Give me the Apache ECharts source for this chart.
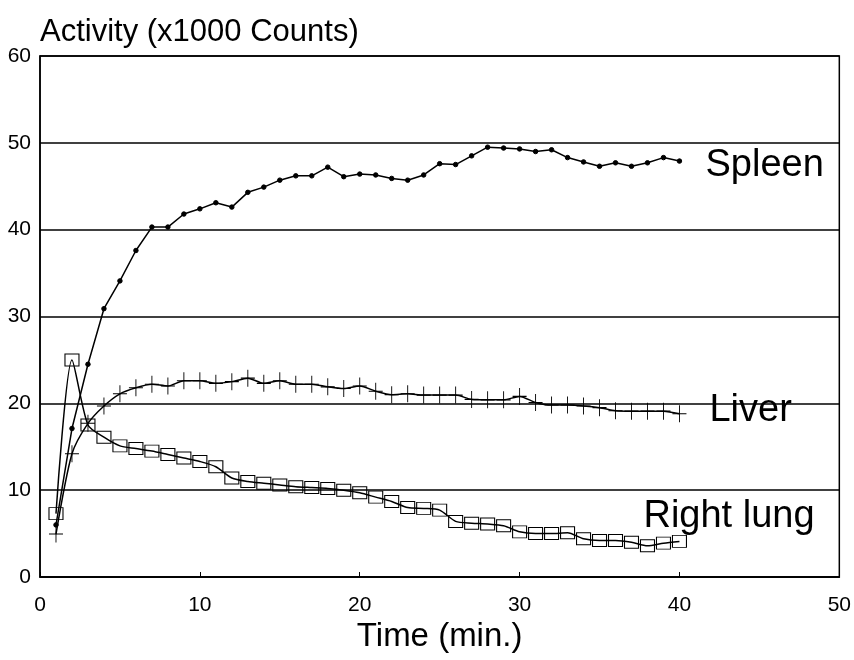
<!DOCTYPE html>
<html><head><meta charset="utf-8">
<script src="https://cdn.jsdelivr.net/npm/echarts/dist/echarts.min.js"></script>
<style>html,body{margin:0;padding:0;background:#fff}#c{width:854px;height:660px}</style>
</head><body><div id="c"></div>
<script>
// Time points (min.)
const times = [1,2,3,4,5,6,7,8,9,10,11,12,13,14,15,16,17,18,19,20,21,22,23,24,25,26,27,28,29,30,31,32,33,34,35,36,37,38,39,40];
// Activity (x1000 counts)
const spleen = [6.0,17.1,24.5,30.9,34.1,37.6,40.3,40.3,41.8,42.4,43.1,42.6,44.3,44.9,45.7,46.2,46.2,47.2,46.1,46.4,46.3,45.9,45.7,46.3,47.6,47.5,48.5,49.5,49.4,49.3,49.0,49.2,48.3,47.8,47.3,47.7,47.3,47.7,48.3,47.9];
const liver = [4.95,14.2,17.7,19.7,21.1,21.8,22.2,22.0,22.6,22.6,22.3,22.5,22.9,22.3,22.6,22.2,22.2,21.9,21.7,22.0,21.4,21.0,21.1,20.95,20.95,20.95,20.45,20.4,20.4,20.8,20.1,19.8,19.8,19.7,19.5,19.15,19.1,19.1,19.1,18.8];
const rightLung = [7.3,25.0,17.5,16.1,15.1,14.8,14.5,14.1,13.7,13.3,12.7,11.4,11.0,10.8,10.6,10.4,10.3,10.2,10.0,9.7,9.2,8.7,8.0,7.9,7.7,6.4,6.2,6.1,5.9,5.2,5.0,5.0,5.1,4.4,4.2,4.2,4.0,3.6,3.9,4.1];
const seriesNames = ['Spleen', 'Liver', 'Right lung'];
const xTitle = 'Time (min.)';
const yTitle = 'Activity (x1000 Counts)';
const xRange = [0, 50], xStep = 10;
const yRange = [0, 60], yStep = 10;

const pair = arr => times.map((t, i) => [t, arr[i]]);
const FONT = 'Liberation Sans, Arial, Helvetica, sans-serif';
const chart = echarts.init(document.getElementById('c'), null, {renderer: 'canvas'});
const lineBase = {
  type: 'line',
  lineStyle: {color: '#000', width: 1.5},
  itemStyle: {color: '#000', borderColor: '#000'},
  emphasis: {disabled: true},
  endLabel: {show: true, color: '#000', fontFamily: FONT, fontSize: 38}
};
chart.setOption({
  animation: false,
  backgroundColor: '#fff',
  grid: {left: 40, right: 13, top: 56, bottom: 83, show: true, borderColor: '#000', borderWidth: 1.5},
  xAxis: {
    type: 'value', min: xRange[0], max: xRange[1], interval: xStep,
    name: xTitle, nameLocation: 'middle', nameGap: 40,
    nameTextStyle: {color: '#000', fontFamily: FONT, fontSize: 33},
    axisLine: {lineStyle: {color: '#000', width: 1.5}},
    axisTick: {inside: true, length: 5, lineStyle: {color: '#000'}},
    axisLabel: {color: '#000', fontFamily: FONT, fontSize: 21, margin: 18},
    splitLine: {show: false}
  },
  yAxis: {
    type: 'value', min: yRange[0], max: yRange[1], interval: yStep,
    name: yTitle, nameLocation: 'end', nameGap: 8,
    nameTextStyle: {color: '#000', fontFamily: FONT, fontSize: 31, align: 'left', verticalAlign: 'bottom'},
    axisLine: {show: true, lineStyle: {color: '#000', width: 1.5}},
    axisTick: {show: false},
    axisLabel: {color: '#000', fontFamily: FONT, fontSize: 21, margin: 9},
    splitLine: {show: true, lineStyle: {color: '#000', width: 1.5}}
  },
  series: [
    Object.assign({}, lineBase, {
      name: seriesNames[0], data: pair(spleen), symbol: 'circle', symbolSize: 4.5,
      endLabel: Object.assign({}, lineBase.endLabel, {formatter: seriesNames[0], distance: 26, offset: [0, 4]})
    }),
    Object.assign({}, lineBase, {
      name: seriesNames[1], data: pair(liver), smooth: 0.25,
      symbol: 'path://M8,0L8,18M1,9L15,9', symbolSize: [14, 17],
      itemStyle: {color: 'none', borderColor: '#000', borderWidth: 1},
      endLabel: Object.assign({}, lineBase.endLabel, {formatter: seriesNames[1], distance: 30, offset: [0, -3]})
    }),
    Object.assign({}, lineBase, {
      name: seriesNames[2], data: pair(rightLung), smooth: 0.25,
      symbol: 'rect', symbolSize: [14, 12],
      itemStyle: {color: 'rgba(0,0,0,0)', borderColor: '#000', borderWidth: 1},
      endLabel: Object.assign({}, lineBase.endLabel, {formatter: seriesNames[2], distance: 5, offset: [-41, -25]})
    })
  ]
});
</script></body></html>
